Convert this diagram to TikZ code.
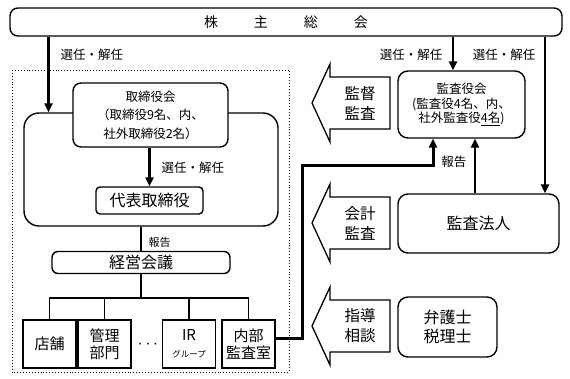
\documentclass[tikz,border=0pt]{standalone}
\usepackage{fontspec}
\setmainfont{Noto Sans CJK JP}
\usetikzlibrary{arrows.meta}
\tikzset{
  rbox/.style={draw, line width=1.4pt, rounded corners=8pt, align=center, inner sep=0pt},
  sbox/.style={draw, line width=1.2pt, align=center, inner sep=0pt},
  conn/.style={line width=1.2pt},
  sel/.style={line width=2.8pt, -{Triangle[length=9pt,width=8pt]}},
  lbl/.style={font=\fontsize{12.5}{14}\selectfont},
  rpt/.style={font=\fontsize{11}{13}\selectfont},
  blk/.style={line width=1.3pt, line join=miter},
}
\begin{document}
\begin{tikzpicture}[x=1pt,y=-1pt]
    \useasboundingbox (0,0) rectangle (570,379);
    \node[rbox, minimum width=552, minimum height=28, font=\fontsize{14}{16}\selectfont] (gm) at (286,22)
      {株\hspace{36pt}主\hspace{36pt}総\hspace{36pt}会};
    \draw[dotted, line width=0.9pt] (12,70) rectangle (289,372);
    \node[rbox, rounded corners=15pt, minimum width=254, minimum height=113] (brd) at (151,169.5) {};
    \node[rbox, fill=white, minimum width=155, minimum height=64, font=\fontsize{12.5}{18.5}\selectfont] (bod) at (150.5,115)
      {取締役会\\（取締役9名、内、\\社外取締役2名）};
    \node[rbox, rounded corners=4pt, minimum width=107, minimum height=27, font=\fontsize{16}{18}\selectfont] (rep) at (149.5,200.5) {代表取締役};
    \draw[sel] (rep.north |- bod.south) -- (rep.north);
    \node[lbl, anchor=west] (selrep) at (158,168) {選任・解任};
    \coordinate (gmleft) at (48.5,0);
    \draw[sel] (gmleft |- gm.south) -- (gmleft |- brd.north);
    \node[lbl, anchor=west] (selbrd) at (57,55) {選任・解任};
    \node[rbox, rounded corners=6pt, minimum width=178, minimum height=22, font=\fontsize{16}{18}\selectfont] (mtg) at (141,262.5) {経営会議};
    \draw[conn] (mtg.north |- brd.south) -- (mtg.north);
    \node[rpt, anchor=west] (rptmtg) at (145,242) {報告};
    \coordinate (bus) at (141,298);
    \draw[conn] (mtg.south) -- (bus);
    \foreach \n/\x/\t in {shop/49.5/{店舗}, adm/104.5/{管理\\部門}, ir/189/{IR\\{\fontsize{8.5}{10}\selectfont グループ}}, aud/248.5/{内部\\監査室}} {
      \node[sbox, minimum width=53, minimum height=48, font=\fontsize{15}{17}\selectfont] (\n) at (\x,344) {\t};
      \draw[conn] (\n.north) |- (bus);
    }
    \node[font=\LARGE] (dots) at (148,345) {$\cdots$};
    \node[rbox, rounded corners=10pt, minimum width=127, minimum height=67, font=\fontsize{12.5}{14.5}\selectfont] (kan) at (461.5,104.5)
      {監査役会\\(監査役4名、内、\\社外監査役\underline{4名})};
    \node[rbox, rounded corners=10pt, minimum width=161, minimum height=59, font=\fontsize{16}{18}\selectfont] (kh) at (478.5,223.5) {監査法人};
    \node[rbox, rounded corners=10pt, minimum width=99, minimum height=60, font=\fontsize{16}{19}\selectfont] (law) at (447.5,327) {弁護士\\税理士};
    \coordinate (kantop) at ([xshift=-8.5pt]kan.north);
    \draw[sel] (kantop |- gm.south) -- (kantop);
    \node[lbl, anchor=east] (selkan) at (446,55) {選任・解任};
    \coordinate (khtop) at ([xshift=66.5pt]kh.north);
    \draw[sel] (khtop |- gm.south) -- (khtop);
    \node[lbl, anchor=east] (selkh) at (539,55) {選任・解任};
    \coordinate (khrep) at ([xshift=-3.5pt]kh.north);
    \draw[sel] (khrep) -- (khrep |- kan.south);
    \node[lbl, anchor=east] (rptkh) at (470,162) {報告};
    \coordinate (jct) at (302,166);
    \coordinate (kanbot) at ([xshift=-28.5pt]kan.south);
    \draw[line width=3pt, line join=miter, -{Triangle[length=9pt,width=8pt]}] ([yshift=6pt]aud.east) -| (jct) -| (kanbot);
    \foreach \n/\c/\t in {sup/103/{監督\\監査}, acc/223/{会計\\監査}, adv/326/{指導\\相談}} {
      \draw[blk] (312,\c) -- (330,\c-39) -- (330,\c-26) -- (390,\c-26) -- (390,\c+26) -- (330,\c+26) -- (330,\c+39) -- cycle;
      \node[align=center, font=\fontsize{15.5}{20}\selectfont] (\n) at (360,\c) {\t};
    }
\end{tikzpicture}
\end{document}
